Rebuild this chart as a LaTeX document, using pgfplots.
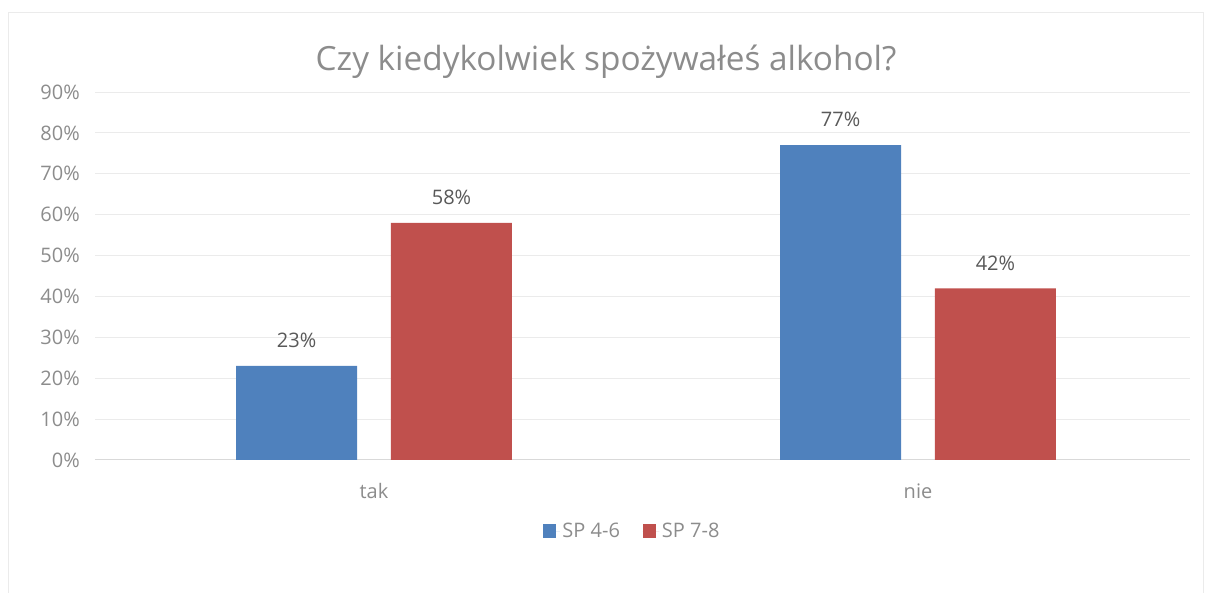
\documentclass[border=0pt]{standalone}
\usepackage{pgfplots}
\pgfplotsset{compat=1.18}
\usepackage{fontspec}
\setmainfont{Open Sans}
\definecolor{txt}{HTML}{8C8C8C}
\definecolor{dtxt}{HTML}{595959}
\definecolor{grd}{HTML}{EBEBEB}
\definecolor{axl}{HTML}{D9D9D9}
\definecolor{b1}{HTML}{4F81BD}
\definecolor{r1}{HTML}{C0504D}
\begin{document}
\begin{tikzpicture}
\path[use as bounding box] (0,0) rectangle (906pt,444.75pt);
\draw[grd, line width=0.75pt] (6pt,-2pt) -- (6pt,435pt) -- (902.25pt,435pt) -- (902.25pt,-2pt);
\node[txt, font=\fontsize{25}{30}\selectfont] at (454.5pt,398.25pt) {Czy kiedykolwiek spożywałeś alkohol?};
\begin{axis}[
  at={(71.25pt,99.75pt)}, anchor=south west,
  scale only axis, width=821.25pt, height=276pt,
  ymin=0, ymax=90, xmin=-0.5129, xmax=1.5,
  ybar, bar width=90.75pt,
  ytick={0,10,...,90},
  yticklabel={\pgfmathprintnumber{\tick}\%},
  xtick={0,1}, xticklabels={tak,nie},
  ymajorgrids, grid style={grd, line width=0.75pt},
  axis x line*=bottom, axis y line*=left,
  x axis line style={axl, line width=0.75pt, -},
  y axis line style={draw=none},
  major tick length=0pt,
  /pgf/number format/assume math mode=true,
  tick label style={txt, font=\fontsize{15}{18}\selectfont, inner sep=0pt},
  yticklabel style={anchor=east, xshift=-11.25pt},
  xticklabel style={anchor=center, yshift=-23.5pt},
  nodes near coords={\pgfmathprintnumber{\pgfplotspointmeta}\%},
  nodes near coords style={dtxt, font=\fontsize{15}{18}\selectfont, anchor=center, yshift=19pt},
  legend style={at={(0.491,-0.193)}, anchor=center, draw=none, fill=none,
    font=\fontsize{15}{18}\selectfont, text=txt,
    /tikz/every even column/.append style={column sep=15pt}},
  legend columns=2,
  legend image code/.code={\fill[#1] (0pt,-4.9pt) rectangle (9.75pt,4.9pt); \path (0pt,0pt) -- (12.5pt,0pt);},
]
\addplot[bar shift=-58.1pt, fill=b1, draw=none] coordinates {(0,23) (1,77)};
\addplot[bar shift=58.1pt, fill=r1, draw=none] coordinates {(0,58) (1,42)};
\legend{SP 4-6, SP 7-8}
\end{axis}
\end{tikzpicture}
\end{document}
